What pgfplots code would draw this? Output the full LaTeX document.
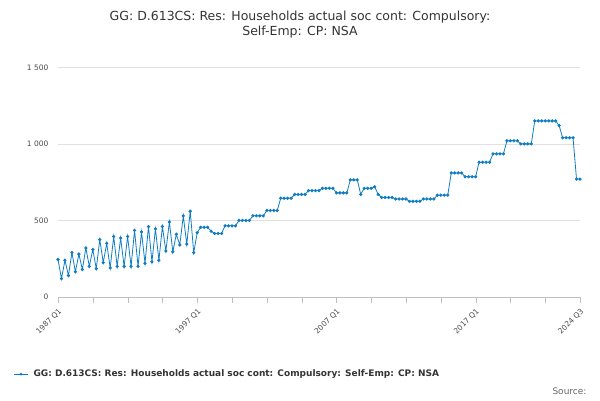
\documentclass[border=0pt]{standalone}
\usepackage{pgfplots}
\pgfplotsset{compat=1.18}
\usepackage{fontspec}
\setmainfont{DejaVu Sans}
\definecolor{ln}{HTML}{0F7DC2}
\begin{document}
\begin{tikzpicture}[x=1pt,y=1pt]
\useasboundingbox (0,0) rectangle (600,400);
\node[align=center,font=\fontsize{12.5}{15}\selectfont,text=black!80] at (300,375) {GG: D.613CS: Res: Households actual soc cont: Compulsory:\\Self-Emp: CP: NSA};
\begin{axis}[at={(58pt,103pt)},anchor=origin,scale only axis,width=522pt,height=245pt,
 xmin=0,xmax=150,ymin=0,ymax=1600,
 axis lines*=left, axis line style={draw=none},
 ytick={0,500,1000,1500},
 yticklabels={0,500,1 000,1 500},
 ymajorgrids, grid style={black!12},
 tick label style={font=\fontsize{7.5}{9}\selectfont,text=black!70},
 /pgf/number format/assume math mode=true,
 ytick style={draw=none},
 xtick={0,10,...,150},
 xticklabels={1987 Q1,,,,1997 Q1,,,,2007 Q1,,,,2017 Q1,,,},
 extra x ticks={150}, extra x tick labels={2024 Q3},
 extra x tick style={tick style={draw=none}},
 xticklabel style={rotate=45,anchor=north east},
 x tick style={draw=black!25},
 major tick length=6pt,
 tick align=outside,
 clip=false]
\draw[black!25] (axis cs:0,0) -- (axis cs:150,0);
\addplot[ln,thick,mark=*,mark size=1.2pt] coordinates {
(0,245)(1,120)(2,240)(3,140)(4,290)(5,165)(6,280)(7,180)(8,320)(9,200)
(10,310)(11,185)(12,375)(13,225)(14,350)(15,190)(16,395)(17,200)(18,385)(19,200)
(20,395)(21,200)(22,435)(23,200)(24,425)(25,220)(26,460)(27,230)(28,445)(29,240)
(30,460)(31,300)(32,490)(33,295)(34,410)(35,340)(36,530)(37,345)(38,560)(39,290)
(40,420)(41,455)(42,455)(43,455)(44,430)(45,415)(46,415)(47,415)(48,465)(49,465)
(50,465)(51,465)(52,500)(53,500)(54,500)(55,500)(56,530)(57,530)(58,530)(59,530)
(60,565)(61,565)(62,565)(63,565)(64,645)(65,645)(66,645)(67,645)(68,670)(69,670)
(70,670)(71,670)(72,695)(73,695)(74,695)(75,695)(76,710)(77,710)(78,710)(79,710)
(80,680)(81,680)(82,680)(83,680)(84,765)(85,765)(86,765)(87,670)(88,710)(89,710)
(90,710)(91,720)(92,670)(93,650)(94,650)(95,650)(96,650)(97,640)(98,640)(99,640)
(100,640)(101,625)(102,625)(103,625)(104,625)(105,640)(106,640)(107,640)(108,640)(109,665)
(110,665)(111,665)(112,665)(113,810)(114,810)(115,810)(116,810)(117,785)(118,785)(119,785)
(120,785)(121,880)(122,880)(123,880)(124,880)(125,935)(126,935)(127,935)(128,935)(129,1020)
(130,1020)(131,1020)(132,1020)(133,1000)(134,1000)(135,1000)(136,1000)(137,1150)(138,1150)(139,1150)
(140,1150)(141,1150)(142,1150)(143,1150)(144,1120)(145,1040)(146,1040)(147,1040)(148,1040)(149,770)
(150,770)};
\end{axis}
\draw[ln,thick] (14,26) -- (28,26); \fill[ln] (21,26) circle (1.5);
\node[anchor=west,font=\fontsize{9}{11}\selectfont\bfseries,text=black!80] at (30,26) {GG: D.613CS: Res: Households actual soc cont: Compulsory: Self-Emp: CP: NSA};
\node[anchor=east,font=\fontsize{9}{11}\selectfont,text=black!60] at (590,9) {Source:};
\end{tikzpicture}
\end{document}
